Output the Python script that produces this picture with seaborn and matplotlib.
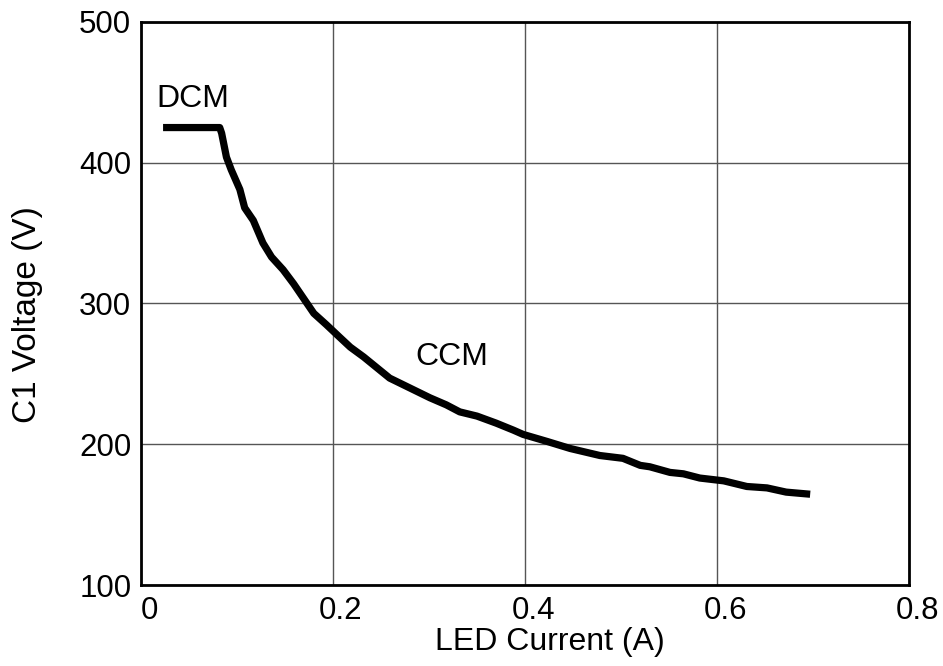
import pandas as pd
import matplotlib
matplotlib.use("Agg")
import matplotlib.pyplot as plt
import matplotlib.transforms as mtransforms
import seaborn as sns

# values
current = [0.023, 0.082, 0.084, 0.089, 0.094, 0.103, 0.108, 0.117, 0.127, 0.136,
           0.148, 0.159, 0.169, 0.180, 0.193, 0.207, 0.218, 0.232, 0.259, 0.280,
           0.301, 0.318, 0.332, 0.350, 0.370, 0.388, 0.398, 0.423, 0.447, 0.478,
           0.502, 0.520, 0.530, 0.551, 0.565, 0.582, 0.607, 0.631, 0.652, 0.672,
           0.697]
voltage = [425, 425, 421, 404, 395, 381, 368, 359, 343, 333,
           324, 314, 304, 293, 285, 276, 269, 262, 247, 240,
           233, 228, 223, 220, 215, 210, 207, 202, 197, 192,
           190, 185, 184, 180, 179, 176, 174, 170, 169, 166,
           164.5]
xticks = [0, 0.2, 0.4, 0.6, 0.8]
xticklabels = ["0", "0.2", "0.4", "0.6", "0.8"]
yticks = [100, 200, 300, 400, 500]

df = pd.DataFrame({"LED Current (A)": current, "C1 Voltage (V)": voltage})

sns.set_theme(style="white")
plt.rcParams['font.family'] = ['Liberation Sans', 'DejaVu Sans']
plt.rcParams['text.color'] = 'black'

fig = plt.figure(figsize=(9.43, 6.66), dpi=100)
ax = fig.add_axes([0.1495, 0.1216, 0.8145, 0.8454])

sns.lineplot(data=df, x="LED Current (A)", y="C1 Voltage (V)", ax=ax,
             sort=False, estimator=None, color="black", linewidth=5.2,
             solid_capstyle="butt", solid_joinstyle="round")

ax.set_xlim(0, 0.8)
ax.set_ylim(100, 500)
ax.set_xticks(xticks)
ax.set_xticklabels(xticklabels)
ax.set_yticks(yticks)
ax.grid(True, color="#555555", linewidth=1.0)
ax.set_axisbelow(True)
for s in ax.spines.values():
    s.set_color("black")
    s.set_linewidth(2.0)
ax.tick_params(axis="both", labelsize=22.5, colors="black", length=0)
ax.tick_params(axis="y", pad=7)
ax.tick_params(axis="x", pad=8)

# x tick labels sit a bit right of their gridlines in the reference
shift = mtransforms.ScaledTranslation(8 / 100, 0, fig.dpi_scale_trans)
for lab in ax.get_xticklabels():
    lab.set_transform(lab.get_transform() + shift)

ax.set_xlabel("LED Current (A)", fontsize=23, color="black", labelpad=2)
ax.xaxis.set_label_coords(0.533, -0.075)
ax.set_ylabel("C1 Voltage (V)", fontsize=24, color="black")
ax.yaxis.set_label_coords(-0.128, 0.48)

ax.text(0.054, 445, "DCM", fontsize=23, ha="center", va="center", color="black")
ax.text(0.324, 262, "CCM", fontsize=23, ha="center", va="center", color="black")

fig.savefig("out.png", dpi=100)
